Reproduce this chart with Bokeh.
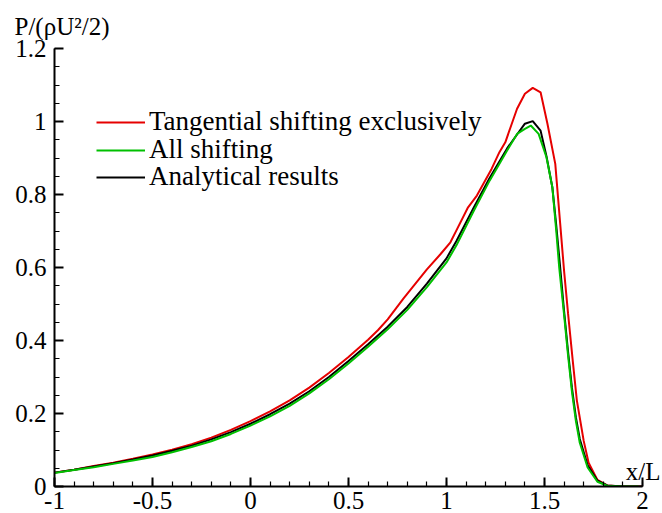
from bokeh.plotting import figure
from bokeh.models import (Range1d, FixedTicker, CustomJSTickFormatter, Label,
                          Legend, LegendItem)
from bokeh.embed import file_html
from bokeh.resources import INLINE

# ---- data ----
x_tan = [-1.0, -0.9, -0.8, -0.7, -0.6, -0.5, -0.4, -0.3, -0.2, -0.1, 0.0, 0.1, 0.2, 0.3,
         0.4, 0.5, 0.6, 0.65, 0.7, 0.78, 0.9, 0.97, 1.02, 1.05, 1.11, 1.155, 1.23, 1.27,
         1.30, 1.33, 1.36, 1.40, 1.44, 1.48, 1.515, 1.555, 1.58, 1.60, 1.62, 1.645, 1.665,
         1.70, 1.725, 1.77, 1.82, 1.9, 2.0]
y_tan = [0.038, 0.046, 0.056, 0.065, 0.076, 0.088, 0.101, 0.116, 0.134, 0.155, 0.179, 0.206,
         0.236, 0.271, 0.311, 0.355, 0.402, 0.428, 0.458, 0.515, 0.595, 0.637, 0.669, 0.701,
         0.765, 0.797, 0.870, 0.916, 0.943, 0.989, 1.035, 1.076, 1.092, 1.080, 0.994, 0.884,
         0.72, 0.59, 0.475, 0.34, 0.236, 0.125, 0.065, 0.018, 0.003, 0.0, 0.0]

x_all = [-1.0, -0.9, -0.8, -0.7, -0.6, -0.5, -0.4, -0.3, -0.2, -0.1, 0.0, 0.1, 0.2, 0.3,
         0.4, 0.5, 0.6, 0.7, 0.8, 0.9, 1.0, 1.05, 1.14, 1.22, 1.31, 1.36, 1.40, 1.43, 1.47,
         1.51, 1.54, 1.56, 1.575, 1.60, 1.62, 1.64, 1.66, 1.68, 1.72, 1.77, 1.82, 1.9, 1.98]
y_all = [0.037, 0.045, 0.053, 0.062, 0.071, 0.081, 0.094, 0.108, 0.124, 0.144, 0.167, 0.192,
         0.221, 0.255, 0.294, 0.337, 0.383, 0.431, 0.484, 0.546, 0.614, 0.660, 0.756, 0.838,
         0.921, 0.966, 0.980, 0.989, 0.966, 0.902, 0.82, 0.70, 0.60, 0.47, 0.36, 0.26, 0.18,
         0.12, 0.052, 0.013, 0.002, 0.0, 0.0]

x_an = [-1.0, -0.9, -0.8, -0.7, -0.6, -0.5, -0.4, -0.3, -0.2, -0.1, 0.0, 0.1, 0.2, 0.3,
        0.4, 0.5, 0.6, 0.7, 0.8, 0.9, 1.0, 1.05, 1.14, 1.22, 1.31, 1.37, 1.40, 1.44, 1.48,
        1.51, 1.54, 1.56, 1.58, 1.60, 1.62, 1.64, 1.66, 1.68, 1.72, 1.77, 1.82, 1.9, 2.0]
y_an = [0.038, 0.046, 0.055, 0.064, 0.074, 0.085, 0.098, 0.112, 0.129, 0.149, 0.172, 0.198,
        0.227, 0.261, 0.300, 0.344, 0.390, 0.438, 0.492, 0.556, 0.625, 0.672, 0.765, 0.845,
        0.927, 0.972, 0.994, 1.001, 0.975, 0.905, 0.82, 0.715, 0.60, 0.48, 0.37, 0.27, 0.19,
        0.13, 0.058, 0.016, 0.003, 0.0, 0.0]

x_ticks = [-1, -0.5, 0, 0.5, 1, 1.5, 2]
y_ticks = [0, 0.2, 0.4, 0.6, 0.8, 1.0, 1.2]
x_minor = [round(-1 + 0.1 * i, 2) for i in range(31)]
y_minor = [round(0.05 * i, 2) for i in range(25)]

names = ["Tangential shifting exclusively", "All shifting", "Analytical results"]
y_title = "P/(\u03c1U\u00b2/2)"
x_title = "x/L"

FONT = "Liberation Serif"
RED = "#e60000"
GREEN = "#00c000"
BLACK = "#000000"

PX_X = 196.0  # pixels per x unit
PX_Y = 365.0  # pixels per y unit
x_end = 2 + 20 / PX_X   # frame extends right of x=2 so that "x/L" fits
y_end = 1.2 + 5 / PX_Y  # frame extends a little above 1.2

p = figure(width=662, height=513, output_backend="svg", toolbar_location=None,
           x_range=Range1d(-1, x_end), y_range=Range1d(0, y_end),
           min_border_left=54, min_border_right=0, min_border_top=43, min_border_bottom=27)
p.outline_line_color = None
p.grid.visible = False

r_tan = p.line(x_tan, y_tan, line_color=RED, line_width=2)
r_an = p.line(x_an, y_an, line_color=BLACK, line_width=2)
r_all = p.line(x_all, y_all, line_color=GREEN, line_width=2)

for ax in (p.xaxis[0], p.yaxis[0]):
    ax.axis_line_width = 2
    ax.axis_line_color = "black"
    ax.major_tick_in = 9
    ax.major_tick_out = 0
    ax.minor_tick_in = 5
    ax.minor_tick_out = 0
    ax.major_tick_line_width = 2
    ax.minor_tick_line_width = 1.2
    ax.major_tick_line_color = "black"
    ax.minor_tick_line_color = "black"
    ax.major_label_text_font = FONT
    ax.major_label_text_font_size = "25px"
    ax.major_label_text_color = "black"
    ax.formatter = CustomJSTickFormatter(code="return String(Math.round(tick*100)/100)")

p.xaxis.ticker = FixedTicker(ticks=x_ticks, minor_ticks=x_minor)
p.xaxis.bounds = (-1, 2)
p.xaxis.major_label_standoff = 5
p.xaxis.major_label_text_line_height = 0.85

p.yaxis.ticker = FixedTicker(ticks=y_ticks, minor_ticks=y_minor)
p.yaxis.bounds = (0, 1.2)
p.yaxis.major_label_standoff = 8

# y title at top-left
p.title.text = y_title
p.title.align = "left"
p.title.offset = -40
p.title.standoff = 8
p.title.text_font = FONT
p.title.text_font_size = "25px"
p.title.text_font_style = "normal"
p.title.text_color = "black"

# x title at right end of the x axis
p.add_layout(Label(x=2 + 18 / PX_X, y=15 / PX_Y, text=x_title,
                   text_font=FONT, text_font_size="25px", text_align="right",
                   text_baseline="alphabetic", text_color="black"))

renderers = [r_tan, r_all, r_an]
row_y = [349, 321, 294]
for name, r, ly in zip(names, renderers, row_y):
    lg = Legend(items=[LegendItem(label=name, renderers=[r])],
                location=(42, ly), orientation="vertical",
                label_text_font=FONT, label_text_font_size="27px", label_text_color="black",
                glyph_width=49, glyph_height=20, label_standoff=4,
                spacing=0, padding=0, margin=0,
                border_line_color=None, background_fill_alpha=0)
    p.add_layout(lg, "center")

open("out.html", "w").write(file_html(p, INLINE))
